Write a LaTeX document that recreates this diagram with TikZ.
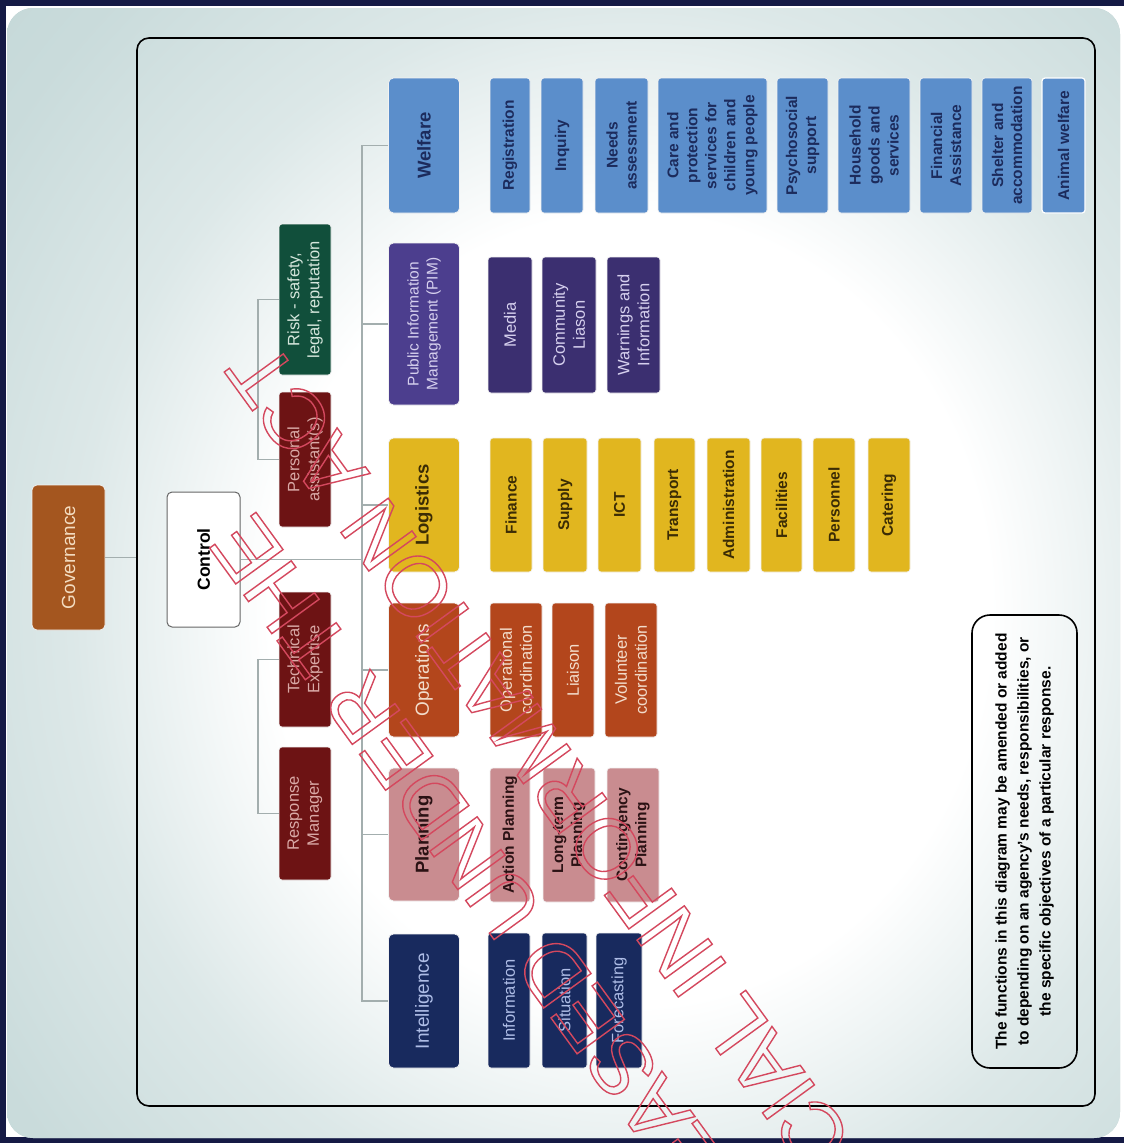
\documentclass[tikz,border=0pt]{standalone}
\usepackage{fontspec}
\setmainfont{Liberation Sans}
\usetikzlibrary{calc}
\definecolor{navyc}{HTML}{151A45}
\definecolor{panelc}{HTML}{C0D5D5}
\definecolor{linec}{HTML}{A3AEAE}
\definecolor{welc}{HTML}{5B8ECB}
\definecolor{weltc}{HTML}{1C2B5C}
\definecolor{pimhc}{HTML}{4C3E8E}
\definecolor{pimsc}{HTML}{3B2F70}
\definecolor{pimtc}{HTML}{D6D0EE}
\definecolor{logic}{HTML}{E1B61F}
\definecolor{logitc}{HTML}{3B2C05}
\definecolor{opsc}{HTML}{B3461C}
\definecolor{opstc}{HTML}{F2DCCB}
\definecolor{planc}{HTML}{C98C90}
\definecolor{plantc}{HTML}{2B1214}
\definecolor{intelc}{HTML}{182A5E}
\definecolor{inteltc}{HTML}{AEBDE6}
\definecolor{staffc}{HTML}{6D1314}
\definecolor{stafftc}{HTML}{D9A9A6}
\definecolor{riskc}{HTML}{114F3B}
\definecolor{risktc}{HTML}{D5E6DC}
\definecolor{govc}{HTML}{A4561F}
\definecolor{govtc}{HTML}{F3DCC0}
\definecolor{wmc}{HTML}{D4485E}
\pgfdeclareradialshading{glow}{\pgfpoint{0bp}{0bp}}{color(0bp)=(white); color(11bp)=(white); color(17bp)=(panelc!55!white); color(23bp)=(panelc!85!white); color(29bp)=(panelc); color(50bp)=(panelc)}
\newcommand\outl[1]{\special{pdf:literal direct 1 Tr 1.4 w}#1\special{pdf:literal direct 0 Tr}}
\tikzset{
  bx/.style={rectangle, rounded corners=3pt, rotate=90, align=center, inner sep=1pt, draw=white!90!gray, line width=0.7pt},
  sz/.style 2 args={minimum width=#1pt, minimum height=#2pt},
  conn/.style={draw=linec, line width=1.3pt},
  fb/.style={font=\fontsize{15.5}{19}\selectfont\bfseries},
  fr/.style={font=\fontsize{16.5}{20}\selectfont},
  hb/.style={font=\fontsize{18.5}{22}\selectfont\bfseries},
  hr/.style={font=\fontsize{19}{22}\selectfont},
  wel/.style={bx, fill=welc, text=weltc, fb},
  pimh/.style={bx, fill=pimhc, text=pimtc, font=\fontsize{15.5}{19}\selectfont},
  pims/.style={bx, fill=pimsc, text=pimtc, fr},
  logi/.style={bx, fill=logic, text=logitc, fb},
  ops/.style={bx, fill=opsc, text=opstc, fr},
  plan/.style={bx, fill=planc, text=plantc, fb},
  intel/.style={bx, fill=intelc, text=inteltc, fr},
  staff/.style={bx, fill=staffc, text=stafftc, font=\fontsize{16.5}{20}\selectfont},
  wm/.style={rotate=126, inner sep=0pt, text=wmc, font=\fontsize{85}{95}\selectfont}
}
\begin{document}
\begin{tikzpicture}[x=1pt,y=-1pt]
\useasboundingbox (0,0) rectangle (1124,1143);
\fill[navyc] (0,0) rectangle (1124,1143);
\fill[white] (6,6) rectangle (1124,1137);
\fill[panelc, rounded corners=26pt] (7,8) rectangle (1120,1138);
\begin{scope}
\clip[rounded corners=26pt] (7,8) rectangle (1120,1138);
\shade[shading=glow] (630,610) ellipse (820 and 900);
\end{scope}

% inner frame
\node[draw=black, line width=1.6pt, rounded corners=12pt, minimum width=958pt, minimum height=1068pt, inner sep=0pt] (frame) at (616,572) {};

% governance and control
\node[bx, fill=govc, text=govtc, font=\fontsize{19}{22}\selectfont, rounded corners=5pt, sz={145}{73}] (gov) at (68.5,557.5) {Governance};
\node[bx, fill=white, draw=gray!80!black, line width=1pt, text=black, font=\fontsize{17.5}{21}\selectfont\bfseries, rounded corners=5pt, sz={135}{73}] (control) at (203.5,559.5) {Control};

% staff
\node[staff, fill=riskc, text=risktc, sz={151}{52}] (risk) at (305,299.5) {Risk - safety,\\legal, reputation};
\node[staff, sz={135}{52}] (pa) at (305,459.5) {Personal\\assistant(s)};
\node[staff, sz={135}{52}] (tech) at (305,659.5) {Technical\\Expertise};
\node[staff, sz={133}{52}] (resp) at (305,813.5) {Response\\Manager};

% heads
\node[wel, hb, rounded corners=5pt, sz={135}{71}] (welfare) at (424,145.5) {Welfare};
\node[pimh, rounded corners=5pt, sz={162}{71}] (pim) at (424,324) {Public Information\\Management (PIM)};
\node[logi, hb, rounded corners=5pt, sz={134}{71}] (logist) at (424,505) {Logistics};
\node[ops, hr, rounded corners=5pt, sz={134}{71}] (ops) at (424,670) {Operations};
\node[plan, hb, rounded corners=5pt, sz={133}{71}] (plan) at (424,834.5) {Planning};
\node[intel, hr, rounded corners=5pt, sz={134}{71}] (intel) at (424,1001) {Intelligence};

% welfare subs
\node[wel, sz={135}{40}] (reg) at (510,145.5) {Registration};
\node[wel, sz={135}{42}] (inq) at (562,145.5) {Inquiry};
\node[wel, sz={135}{53}] (needs) at (621.5,145.5) {Needs\\assessment};
\node[wel, sz={135}{109}] (care) at (712.5,145.5) {Care and\\protection\\services for\\children and\\young people};
\node[wel, sz={135}{51}] (psy) at (802.5,145.5) {Psychosocial\\support};
\node[wel, sz={135}{72}] (house) at (874,145.5) {Household\\goods and\\services};
\node[wel, sz={135}{52}] (finass) at (946,145.5) {Financial\\Assistance};
\node[wel, sz={135}{50}] (shelter) at (1007,145.5) {Shelter and\\accommodation};
\node[wel, sz={135}{43}, draw=white, line width=1.2pt] (animal) at (1063.5,145.5) {Animal welfare};

% PIM subs
\node[pims, sz={136}{44}] (media) at (510,325) {Media};
\node[pims, sz={136}{54}] (comm) at (569,325) {Community\\Liason};
\node[pims, sz={136}{53}] (warn) at (633.5,325) {Warnings and\\Information};

% logistics subs
\node[logi, sz={134}{42}] (finance) at (511,505) {Finance};
\node[logi, sz={134}{44}] (supply) at (565,505) {Supply};
\node[logi, sz={134}{43}] (ict) at (619.5,505) {ICT};
\node[logi, sz={134}{41}] (transport) at (674.5,505) {Transport};
\node[logi, sz={134}{43}] (admin) at (728.5,505) {Administration};
\node[logi, sz={134}{41}] (facil) at (781.5,505) {Facilities};
\node[logi, sz={134}{42}] (personnel) at (834,505) {Personnel};
\node[logi, sz={134}{42}] (catering) at (889,505) {Catering};

% operations subs
\node[ops, sz={134}{52}] (opco) at (516,670) {Operational\\coordination};
\node[ops, sz={134}{42}] (liaison) at (573,670) {Liaison};
\node[ops, sz={134}{52}] (volco) at (631,670) {Volunteer\\coordination};

% planning subs
\node[plan, sz={134}{40}] (action) at (510,835) {Action Planning};
\node[plan, sz={134}{52}] (longterm) at (569,835) {Long-term\\Planning};
\node[plan, sz={134}{52}] (contin) at (633,835) {Contingency\\Planning};

% intelligence subs
\node[intel, sz={135}{42}] (info) at (509,1000.5) {Information};
\node[intel, sz={135}{45}] (sit) at (564.5,1000.5) {Situation};
\node[intel, sz={135}{46}] (fore) at (619,1000.5) {Forecasting};

% note
\node[draw=black, line width=1.6pt, rounded corners=18pt, rotate=90, align=center, inner sep=2pt, minimum width=453pt, minimum height=105pt, font=\fontsize{15.5}{22}\selectfont\bfseries] (note) at (1024.5,841.5) {The functions in this diagram may be amended or added\\to depending on an agency's needs, responsibilities, or\\the specific objectives of a particular response.};

% connectors
\coordinate (bx) at (362,0);
\coordinate (sx) at (258,0);
\draw[conn] (gov.south) -- (gov.south -| frame.west);
\draw[conn] (control.south) -- (control.south -| bx);
\draw[conn] (welfare.north) -- (welfare.north -| bx) -- (intel.north -| bx) -- (intel.north);
\foreach \n in {pim,logist,ops,plan} \draw[conn] (\n.north) -- (\n.north -| bx);
\draw[conn] (risk.north) -- (risk.north -| sx) -- (pa.north -| sx) -- (pa.north);
\draw[conn] (tech.north) -- (tech.north -| sx) -- (resp.north -| sx) -- (resp.north);

% watermark
\node[wm] (wm1) at (516,920) {\outl{RELEASED UNDER THE}};
\node[wm] (wm2) at (596,834) {\outl{OFFICIAL INFORMATION ACT}};
\end{tikzpicture}
\end{document}
